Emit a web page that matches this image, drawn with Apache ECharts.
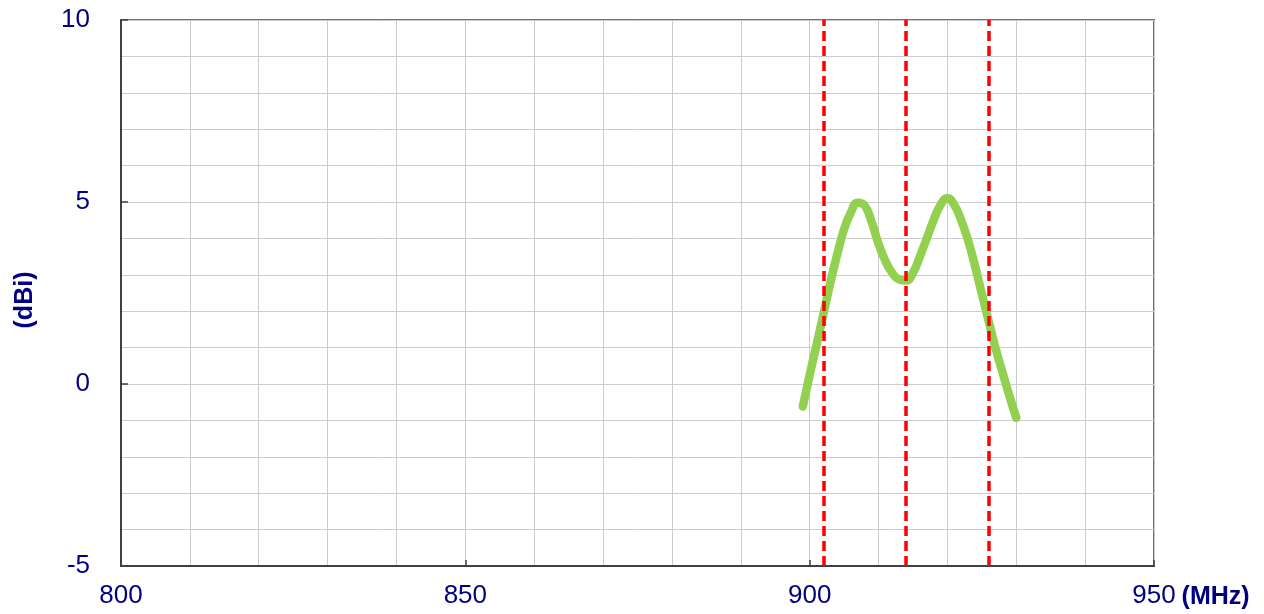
<!DOCTYPE html>
<html>
<head>
<meta charset="utf-8">
<script src="https://cdn.jsdelivr.net/npm/echarts@6/dist/echarts.min.js"></script>
<style>
html,body{margin:0;padding:0;background:#fff;}
#chart{width:1264px;height:614px;}
</style>
</head>
<body>
<div id="chart"></div>
<script>
// Frequency (MHz) and gain (dBi)
const freqMHz = [899,900,901,902,903,904,905,906,907,908,909,910,911,912,913,914,915,916,917,918,919,920,921,922,923,924,925,926,927,928,929,930];
const gainDBi = [-0.62,0.25,1.08,1.92,2.78,3.56,4.25,4.72,4.98,4.9,4.45,3.85,3.38,3.05,2.87,2.84,3.05,3.5,4.0,4.5,4.92,5.1,4.92,4.5,3.95,3.25,2.48,1.72,0.98,0.32,-0.32,-0.93];
const markerFreqs = [902, 914, 926];
const xTicks = [800, 850, 900, 950];
const yTicks = [-5, 0, 5, 10];

const navy = '#000080';
const font = 'Liberation Sans, Arial, sans-serif';

const chart = echarts.init(document.getElementById('chart'), null, {renderer: 'canvas'});
chart.setOption({
  animation: false,
  grid: {left: 121, right: 110, top: 20, bottom: 48, containLabel: false, outerBoundsMode: 'none',
         show: true, borderColor: '#707070', borderWidth: 2, backgroundColor: 'transparent'},
  xAxis: {
    type: 'value', min: xTicks[0], max: xTicks[xTicks.length-1], interval: 50,
    name: '(MHz)', nameLocation: 'end', nameGap: 23,
    nameTextStyle: {color: navy, fontWeight: 'bold', fontSize: 25, fontFamily: font, align: 'left', verticalAlign: 'top', lineHeight: 26, padding: [18,0,0,0]},
    axisLine: {show: true, onZero: false, lineStyle: {color: '#404040', width: 2}},
    axisTick: {show: true, inside: true, length: 6, lineStyle: {color: '#404040', width: 1.5}},
    axisLabel: {color: navy, fontSize: 26, fontFamily: font, margin: 17},
    splitLine: {show: true, lineStyle: {color: '#cccccc', width: 1}},
    minorTick: {show: false, splitNumber: 5},
    minorSplitLine: {show: true, lineStyle: {color: '#cccccc', width: 1}}
  },
  yAxis: {
    type: 'value', min: yTicks[0], max: yTicks[yTicks.length-1], interval: 5,
    name: '(dBi)', nameLocation: 'middle', nameGap: 83, nameRotate: 90,
    nameTextStyle: {color: navy, fontWeight: 'bold', fontSize: 25, fontFamily: font, padding: [0,14,0,0]},
    axisLine: {show: true, onZero: false, lineStyle: {color: '#404040', width: 2}},
    axisTick: {show: true, inside: true, length: 7, lineStyle: {color: '#404040', width: 1.5}},
    axisLabel: {color: navy, fontSize: 26, fontFamily: font, margin: 31},
    splitLine: {show: true, lineStyle: {color: '#cccccc', width: 1}},
    minorTick: {show: false, splitNumber: 5},
    minorSplitLine: {show: true, lineStyle: {color: '#cccccc', width: 1}}
  },
  series: [{
    type: 'line',
    data: freqMHz.map((f, i) => [f, gainDBi[i]]),
    smooth: 0.5,
    showSymbol: false,
    lineStyle: {color: '#92D050', width: 8.5, cap: 'round', join: 'round'},
    z: 3,
    markLine: {
      silent: true,
      symbol: ['none', 'none'],
      label: {show: false},
      lineStyle: {color: '#ff0000', width: 3.5, type: [10, 5]},
      data: markerFreqs.map(f => ({xAxis: f}))
    }
  }]
});
</script>
</body>
</html>
